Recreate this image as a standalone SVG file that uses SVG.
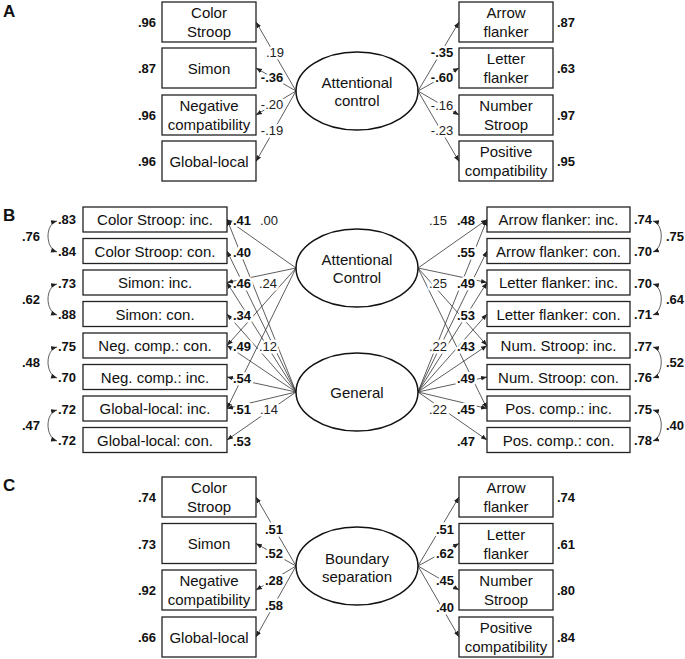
<svg xmlns="http://www.w3.org/2000/svg" width="685" height="659" viewBox="0 0 685 659">
<defs>
<marker id="ah" markerUnits="userSpaceOnUse" markerWidth="6" markerHeight="6" viewBox="0 0 6 6" refX="6" refY="3" orient="auto-start-reverse">
<path d="M0,0.6 L6,3 L0,5.4 z" fill="#222"/>
</marker>
<style>
.box{fill:#fff;stroke:#222;stroke-width:1.3}
.ell{fill:#fff;stroke:#111;stroke-width:1.5}
.t{font-family:"Liberation Sans",Arial,sans-serif;font-size:15px;fill:#111;text-anchor:middle}
.v{font-family:"Liberation Sans",Arial,sans-serif;font-size:13px;fill:#111;font-weight:bold}
.l{font-family:"Liberation Sans",Arial,sans-serif;font-size:13px;fill:#222;stroke:#fff;stroke-width:5;paint-order:stroke;stroke-linejoin:round}
.b{font-weight:bold;fill:#111}
.m{text-anchor:middle}
.e{text-anchor:end}
.pl{font-family:"Liberation Sans",Arial,sans-serif;font-size:17px;font-weight:bold;fill:#111}
.c line,.c path{stroke:#333;stroke-width:0.8;fill:none;marker-end:url(#ah)}
.c path.cov{marker-start:url(#ah)}
</style>
</defs>
<rect width="685" height="659" fill="#fff"/>

<text class="pl" x="3" y="17">A</text>
<text class="pl" x="3" y="221">B</text>
<text class="pl" x="3" y="491">C</text>

<g id="connectors" class="c">
<line x1="296" y1="91" x2="256" y2="22"/>
<line x1="296" y1="91" x2="256" y2="68"/>
<line x1="296" y1="91" x2="256" y2="115"/>
<line x1="296" y1="91" x2="256" y2="161.5"/>
<line x1="418" y1="91" x2="459" y2="22"/>
<line x1="418" y1="91" x2="459" y2="68"/>
<line x1="418" y1="91" x2="459" y2="115"/>
<line x1="418" y1="91" x2="459" y2="161.5"/>
<line x1="296" y1="268" x2="227" y2="219.5"/>
<line x1="296" y1="268" x2="227" y2="282.5"/>
<line x1="296" y1="268" x2="227" y2="345.5"/>
<line x1="296" y1="268" x2="227" y2="408.5"/>
<line x1="296" y1="392" x2="227" y2="219.5"/>
<line x1="296" y1="392" x2="227" y2="251"/>
<line x1="296" y1="392" x2="227" y2="282.5"/>
<line x1="296" y1="392" x2="227" y2="314"/>
<line x1="296" y1="392" x2="227" y2="345.5"/>
<line x1="296" y1="392" x2="227" y2="377"/>
<line x1="296" y1="392" x2="227" y2="408.5"/>
<line x1="296" y1="392" x2="227" y2="440"/>
<line x1="418" y1="268" x2="487" y2="219.5"/>
<line x1="418" y1="268" x2="487" y2="282.5"/>
<line x1="418" y1="268" x2="487" y2="345.5"/>
<line x1="418" y1="268" x2="487" y2="408.5"/>
<line x1="418" y1="392" x2="487" y2="219.5"/>
<line x1="418" y1="392" x2="487" y2="251"/>
<line x1="418" y1="392" x2="487" y2="282.5"/>
<line x1="418" y1="392" x2="487" y2="314"/>
<line x1="418" y1="392" x2="487" y2="345.5"/>
<line x1="418" y1="392" x2="487" y2="377"/>
<line x1="418" y1="392" x2="487" y2="408.5"/>
<line x1="418" y1="392" x2="487" y2="440"/>
<path class="cov" d="M57,221 C45,224 45,248 57,252"/>
<path class="cov" d="M57,284 C45,287 45,311 57,315"/>
<path class="cov" d="M57,347 C45,350 45,374 57,378"/>
<path class="cov" d="M57,410 C45,413 45,437 57,441"/>
<path class="cov" d="M653,221 C664,224 664,248 653,252"/>
<path class="cov" d="M653,284 C664,287 664,311 653,315"/>
<path class="cov" d="M653,347 C664,350 664,374 653,378"/>
<path class="cov" d="M653,410 C664,413 664,437 653,441"/>
<line x1="296" y1="566" x2="256" y2="497"/>
<line x1="296" y1="566" x2="256" y2="543.5"/>
<line x1="296" y1="566" x2="256" y2="590"/>
<line x1="296" y1="566" x2="256" y2="637"/>
<line x1="418" y1="566" x2="459" y2="497"/>
<line x1="418" y1="566" x2="459" y2="543.5"/>
<line x1="418" y1="566" x2="459" y2="590"/>
<line x1="418" y1="566" x2="459" y2="637"/>
</g>

<g id="A-latent"><ellipse class="ell" cx="357" cy="91" rx="61" ry="39"/><text class="t" x="357" y="87.5">Attentional</text><text class="t" x="357" y="105.5">control</text></g>
<g id="A-colorstroop"><rect class="box" x="162" y="2" width="94" height="40"/><text class="t" x="209" y="18">Color</text><text class="t" x="209" y="37">Stroop</text><text class="v e" x="156" y="27">.96</text></g>
<g id="A-simon"><rect class="box" x="162" y="48" width="94" height="40"/><text class="t" x="209" y="73.5">Simon</text><text class="v e" x="156" y="73">.87</text></g>
<g id="A-negcomp"><rect class="box" x="162" y="95" width="94" height="40"/><text class="t" x="209" y="111">Negative</text><text class="t" x="209" y="130">compatibility</text><text class="v e" x="156" y="120">.96</text></g>
<g id="A-global"><rect class="box" x="162" y="141" width="94" height="40"/><text class="t" x="209" y="166.5">Global-local</text><text class="v e" x="156" y="166">.96</text></g>
<g id="A-arrow"><rect class="box" x="459" y="2" width="94" height="40"/><text class="t" x="506" y="18">Arrow</text><text class="t" x="506" y="37">flanker</text><text class="v" x="557" y="27">.87</text></g>
<g id="A-letter"><rect class="box" x="459" y="48" width="94" height="40"/><text class="t" x="506" y="64">Letter</text><text class="t" x="506" y="83">flanker</text><text class="v" x="557" y="73">.63</text></g>
<g id="A-number"><rect class="box" x="459" y="95" width="94" height="40"/><text class="t" x="506" y="111">Number</text><text class="t" x="506" y="130">Stroop</text><text class="v" x="557" y="120">.97</text></g>
<g id="A-poscomp"><rect class="box" x="459" y="141" width="94" height="40"/><text class="t" x="506" y="157">Positive</text><text class="t" x="506" y="176">compatibility</text><text class="v" x="557" y="166">.95</text></g>
<g id="A-loadings">
<text class="l m" x="275" y="57">.19</text>
<text class="l m b" x="272" y="82">-.36</text>
<text class="l m" x="272" y="109">-.20</text>
<text class="l m" x="272" y="135">-.19</text>
<text class="l m b" x="442" y="57">-.35</text>
<text class="l m b" x="442" y="82">-.60</text>
<text class="l m" x="442" y="110">-.16</text>
<text class="l m" x="442" y="135">-.23</text>
</g>

<g id="B-ac"><ellipse class="ell" cx="357" cy="268" rx="61" ry="39"/><text class="t" x="357" y="264.5">Attentional</text><text class="t" x="357" y="282.5">Control</text></g>
<g id="B-general"><ellipse class="ell" cx="357" cy="392" rx="61" ry="39"/><text class="t" x="357" y="397.5">General</text></g>
<g id="B-l1"><rect class="box" x="83" y="207" width="144" height="25"/><text class="t" x="155" y="225">Color Stroop: inc.</text><text class="v e" x="76" y="224">.83</text></g>
<g id="B-l2"><rect class="box" x="83" y="238.5" width="144" height="25"/><text class="t" x="155" y="256.5">Color Stroop: con.</text><text class="v e" x="76" y="256">.84</text></g>
<g id="B-l3"><rect class="box" x="83" y="270" width="144" height="25"/><text class="t" x="155" y="288">Simon: inc.</text><text class="v e" x="76" y="287.5">.73</text></g>
<g id="B-l4"><rect class="box" x="83" y="301.5" width="144" height="25"/><text class="t" x="155" y="319.5">Simon: con.</text><text class="v e" x="76" y="319">.88</text></g>
<g id="B-l5"><rect class="box" x="83" y="333" width="144" height="25"/><text class="t" x="155" y="351">Neg. comp.: con.</text><text class="v e" x="76" y="350.5">.75</text></g>
<g id="B-l6"><rect class="box" x="83" y="364.5" width="144" height="25"/><text class="t" x="155" y="382.5">Neg. comp.: inc.</text><text class="v e" x="76" y="382">.70</text></g>
<g id="B-l7"><rect class="box" x="83" y="396" width="144" height="25"/><text class="t" x="155" y="414">Global-local: inc.</text><text class="v e" x="76" y="413.5">.72</text></g>
<g id="B-l8"><rect class="box" x="83" y="427.5" width="144" height="25"/><text class="t" x="155" y="445.5">Global-local: con.</text><text class="v e" x="76" y="445">.72</text></g>
<g id="B-r1"><rect class="box" x="487" y="207" width="143" height="25"/><text class="t" x="558.5" y="225">Arrow flanker: inc.</text><text class="v" x="634" y="224">.74</text></g>
<g id="B-r2"><rect class="box" x="487" y="238.5" width="143" height="25"/><text class="t" x="558.5" y="256.5">Arrow flanker: con.</text><text class="v" x="634" y="256">.70</text></g>
<g id="B-r3"><rect class="box" x="487" y="270" width="143" height="25"/><text class="t" x="558.5" y="288">Letter flanker: inc.</text><text class="v" x="634" y="287.5">.70</text></g>
<g id="B-r4"><rect class="box" x="487" y="301.5" width="143" height="25"/><text class="t" x="558.5" y="319.5">Letter flanker: con.</text><text class="v" x="634" y="319">.71</text></g>
<g id="B-r5"><rect class="box" x="487" y="333" width="143" height="25"/><text class="t" x="558.5" y="351">Num. Stroop: inc.</text><text class="v" x="634" y="350.5">.77</text></g>
<g id="B-r6"><rect class="box" x="487" y="364.5" width="143" height="25"/><text class="t" x="558.5" y="382.5">Num. Stroop: con.</text><text class="v" x="634" y="382">.76</text></g>
<g id="B-r7"><rect class="box" x="487" y="396" width="143" height="25"/><text class="t" x="558.5" y="414">Pos. comp.: inc.</text><text class="v" x="634" y="413.5">.75</text></g>
<g id="B-r8"><rect class="box" x="487" y="427.5" width="143" height="25"/><text class="t" x="558.5" y="445.5">Pos. comp.: con.</text><text class="v" x="634" y="445">.78</text></g>
<g id="B-cov">
<text class="v e" x="40" y="241">.76</text>
<text class="v e" x="40" y="304">.62</text>
<text class="v e" x="40" y="367">.48</text>
<text class="v e" x="40" y="430">.47</text>
<text class="v" x="666" y="241">.75</text>
<text class="v" x="666" y="304">.64</text>
<text class="v" x="666" y="367">.52</text>
<text class="v" x="666" y="430">.40</text>
</g>
<g id="B-loadings">
<text class="l b" x="233" y="225">.41</text>
<text class="l b" x="233" y="256.5">.40</text>
<text class="l b" x="233" y="288">.46</text>
<text class="l b" x="233" y="319.5">.34</text>
<text class="l b" x="233" y="351">.49</text>
<text class="l b" x="233" y="382.5">.54</text>
<text class="l b" x="233" y="414">.51</text>
<text class="l b" x="233" y="445.5">.53</text>
<text class="l" x="260" y="225">.00</text>
<text class="l" x="259" y="288">.24</text>
<text class="l" x="259" y="351">.12</text>
<text class="l" x="260" y="414">.14</text>
<text class="l b e" x="475" y="225">.48</text>
<text class="l b e" x="475" y="256.5">.55</text>
<text class="l b e" x="475" y="288">.49</text>
<text class="l b e" x="475" y="319.5">.53</text>
<text class="l b e" x="475" y="351">.43</text>
<text class="l b e" x="475" y="382.5">.49</text>
<text class="l b e" x="475" y="414">.45</text>
<text class="l b e" x="475" y="445.5">.47</text>
<text class="l e" x="447" y="225">.15</text>
<text class="l e" x="447" y="288">.25</text>
<text class="l e" x="447" y="351">.22</text>
<text class="l e" x="447" y="414">.22</text>
</g>

<g id="C-latent"><ellipse class="ell" cx="357" cy="566" rx="61" ry="39"/><text class="t" x="357" y="563.5">Boundary</text><text class="t" x="357" y="581.5">separation</text></g>
<g id="C-colorstroop"><rect class="box" x="162" y="477" width="94" height="40"/><text class="t" x="209" y="493">Color</text><text class="t" x="209" y="512">Stroop</text><text class="v e" x="156" y="502">.74</text></g>
<g id="C-simon"><rect class="box" x="162" y="523.5" width="94" height="40"/><text class="t" x="209" y="549">Simon</text><text class="v e" x="156" y="548.5">.73</text></g>
<g id="C-negcomp"><rect class="box" x="162" y="570" width="94" height="40"/><text class="t" x="209" y="586">Negative</text><text class="t" x="209" y="605">compatibility</text><text class="v e" x="156" y="595">.92</text></g>
<g id="C-global"><rect class="box" x="162" y="617" width="94" height="40"/><text class="t" x="209" y="642.5">Global-local</text><text class="v e" x="156" y="642">.66</text></g>
<g id="C-arrow"><rect class="box" x="459" y="477" width="94" height="40"/><text class="t" x="506" y="493">Arrow</text><text class="t" x="506" y="512">flanker</text><text class="v" x="557" y="502">.74</text></g>
<g id="C-letter"><rect class="box" x="459" y="523.5" width="94" height="40"/><text class="t" x="506" y="539.5">Letter</text><text class="t" x="506" y="558.5">flanker</text><text class="v" x="557" y="548.5">.61</text></g>
<g id="C-number"><rect class="box" x="459" y="570" width="94" height="40"/><text class="t" x="506" y="586">Number</text><text class="t" x="506" y="605">Stroop</text><text class="v" x="557" y="595">.80</text></g>
<g id="C-poscomp"><rect class="box" x="459" y="617" width="94" height="40"/><text class="t" x="506" y="633">Positive</text><text class="t" x="506" y="652">compatibility</text><text class="v" x="557" y="642">.84</text></g>
<g id="C-loadings">
<text class="l m b" x="274" y="534">.51</text>
<text class="l m b" x="274" y="558">.52</text>
<text class="l m b" x="274" y="585">.28</text>
<text class="l m b" x="274" y="610">.58</text>
<text class="l m b" x="445" y="534">.51</text>
<text class="l m b" x="445" y="558">.62</text>
<text class="l m b" x="445" y="585">.45</text>
<text class="l m b" x="445" y="612">.40</text>
</g>
</svg>
